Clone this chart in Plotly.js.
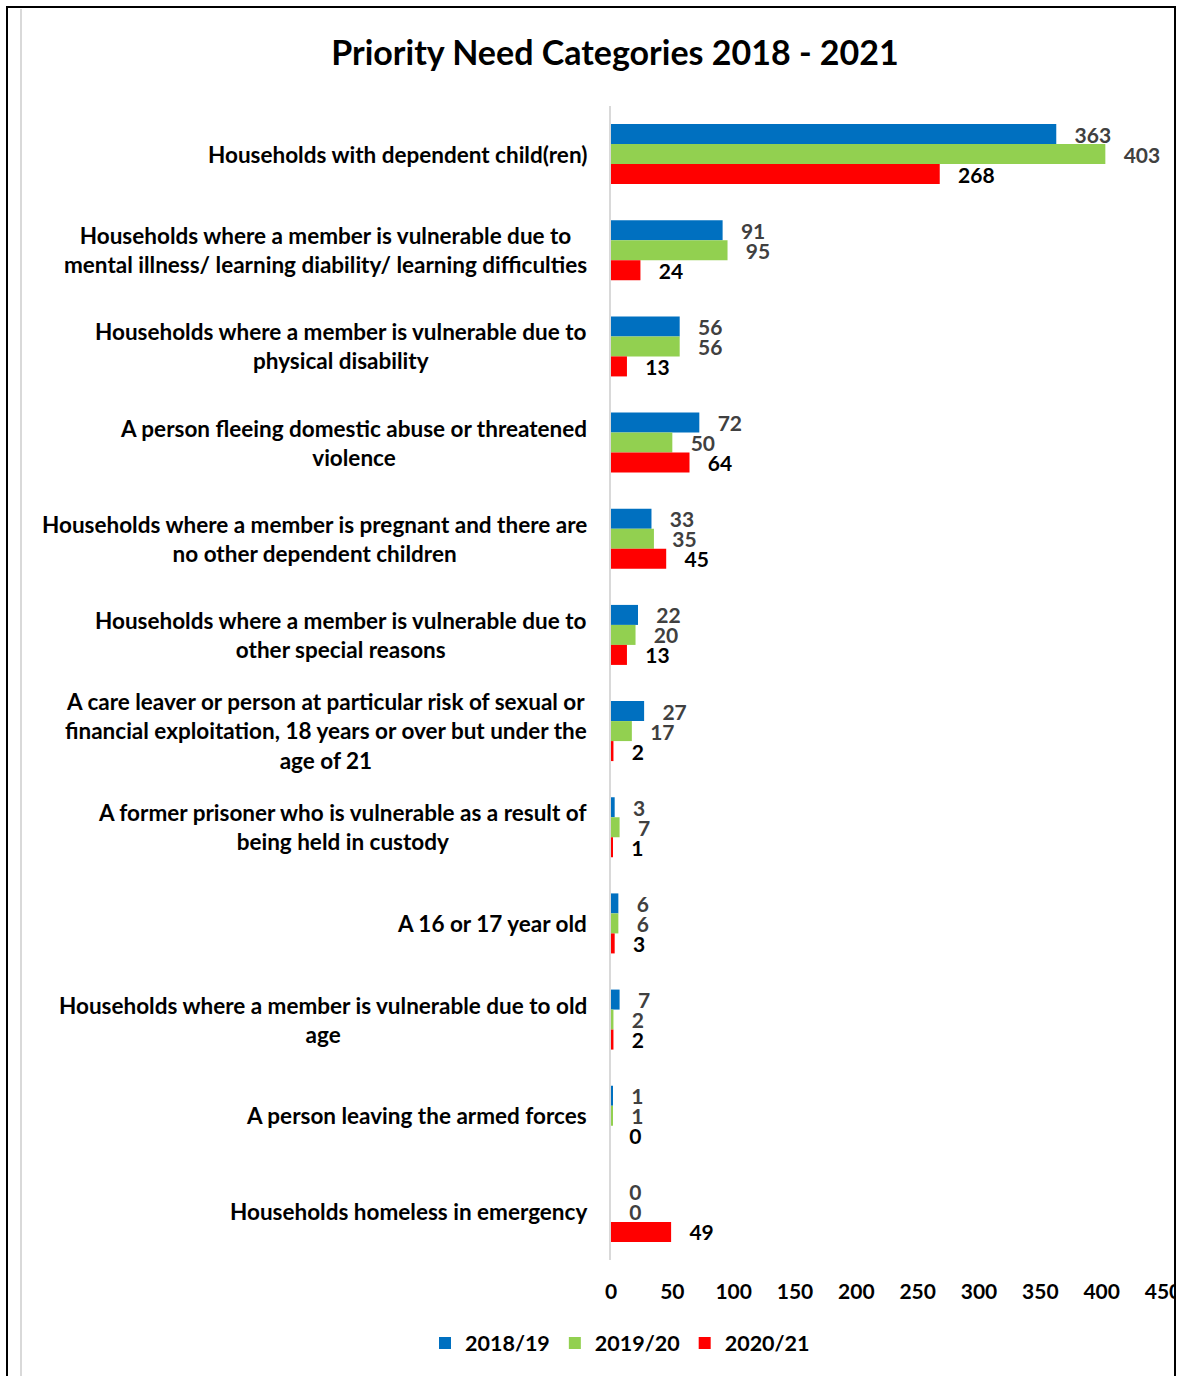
<!DOCTYPE html>
<html>
<head>
<meta charset="utf-8">
<script src="https://cdn.plot.ly/plotly-3.0.1.min.js"></script>
<style>html,body{margin:0;padding:0;background:#fff;}#chart{width:1177px;height:1376px;}</style>
</head>
<body>
<div id="chart"></div>
<script>
const categories = [
  "Households with dependent child(ren)",
  "Households where a member is vulnerable due to<br>mental illness/ learning diability/ learning difficulties",
  "Households where a member is vulnerable due to<br>physical disability",
  "A person fleeing domestic abuse or threatened<br>violence",
  "Households where a member is pregnant and there are<br>no other dependent children",
  "Households where a member is vulnerable due to<br>other special reasons",
  "A care leaver or person at particular risk of sexual or<br>financial exploitation, 18 years or over but under the<br>age of 21",
  "A former prisoner who is vulnerable as a result of<br>being held in custody",
  "A 16 or 17 year old",
  "Households where a member is vulnerable due to old<br>age",
  "A person leaving the armed forces",
  "Households homeless in emergency"
];
const seriesNames = ["2018/19", "2019/20", "2020/21"];
const values2018 = [363, 91, 56, 72, 33, 22, 27, 3, 6, 7, 1, 0];
const values2019 = [403, 95, 56, 50, 35, 20, 17, 7, 6, 2, 1, 0];
const values2020 = [268, 24, 13, 64, 45, 13, 2, 1, 3, 2, 0, 49];
const xTicks = [0, 50, 100, 150, 200, 250, 300, 350, 400, 450];

const colors = ["#0070C0", "#92D050", "#FF0000"];
const labelColors = ["#404040", "#404040", "#000000"];
const FONT = "Lato, 'Open Sans', sans-serif";
const NB = "\u00a0\u00a0\u00a0";

const W = 1177, H = 1376;
const M = {l: 611, r: 14, t: 106, b: 116};
const PW = W - M.l - M.r, PH = H - M.t - M.b;
const px = x => (x - M.l) / PW;
const py = y => (H - M.b - y) / PH;

const allValues = [values2018, values2019, values2020];
const traces = allValues.map((vals, i) => ({
  type: "bar",
  orientation: "h",
  name: seriesNames[i],
  y: categories,
  x: vals,
  marker: {color: colors[i]},
  text: vals.map(v => NB + v),
  textposition: "outside",
  constraintext: "none",
  cliponaxis: false,
  textfont: {family: FONT, size: 21, weight: 700, color: labelColors[i]},
  hoverinfo: "x+name"
}));

const annotations = categories.map(c => ({
  text: c,
  xref: "paper", x: 0, xanchor: "right", xshift: -22,
  yref: "y", y: c, yanchor: "middle",
  align: "center",
  showarrow: false,
  font: {family: FONT, size: 22.5, weight: 700, color: "#000"}
}));

const shapes = [
  {type: "rect", xref: "paper", yref: "paper", x0: px(1176), x1: px(1200), y0: py(1400), y1: py(-10), layer: "above",
   fillcolor: "#fff", line: {width: 0}},
  {type: "line", xref: "paper", yref: "paper", x0: px(7), x1: px(7), y0: py(1380), y1: py(6), layer: "above",
   line: {color: "#000", width: 2}},
  {type: "line", xref: "paper", yref: "paper", x0: px(1175), x1: px(1175), y0: py(1380), y1: py(6), layer: "above",
   line: {color: "#000", width: 2}},
  {type: "line", xref: "paper", yref: "paper", x0: px(6), x1: px(1176), y0: py(7), y1: py(7), layer: "above",
   line: {color: "#000", width: 2}},
  {type: "line", xref: "paper", yref: "paper", x0: px(21), x1: px(21), y0: py(1380), y1: py(9), layer: "above",
   line: {color: "#d9d9d9", width: 2}}
];

const layout = {
  width: W, height: H,
  margin: M,
  paper_bgcolor: "#fff", plot_bgcolor: "#fff",
  barmode: "group", bargap: 0.376, bargroupgap: 0,
  title: {text: "<b>Priority Need Categories 2018 - 2021</b>", xref: "paper", x: px(615), xanchor: "center",
          yref: "paper", y: py(52), yanchor: "middle",
          font: {family: FONT, size: 34, color: "#000"}},
  xaxis: {range: [0, 450.01], tickvals: xTicks, ticktext: xTicks.map(String), showgrid: false, zeroline: false,
          showline: false, ticks: "outside", ticklen: 13, tickcolor: "rgba(0,0,0,0)", ticklabeloverflow: "allow",
          tickfont: {family: FONT, size: 21, weight: 700, color: "#000"}, fixedrange: true},
  yaxis: {type: "category", autorange: "reversed", showticklabels: false, showgrid: false, zeroline: false,
          showline: true, linecolor: "#d9d9d9", linewidth: 2, ticks: "", fixedrange: true},
  showlegend: true,
  legend: {orientation: "h", xref: "paper", x: px(620), xanchor: "center", yref: "paper", y: py(1343), yanchor: "middle",
           font: {family: FONT, size: 21.5, weight: 700, color: "#000"}, traceorder: "normal"},
  annotations: annotations,
  shapes: shapes
};

Plotly.newPlot("chart", traces, layout, {displayModeBar: false});
</script>
</body>
</html>
